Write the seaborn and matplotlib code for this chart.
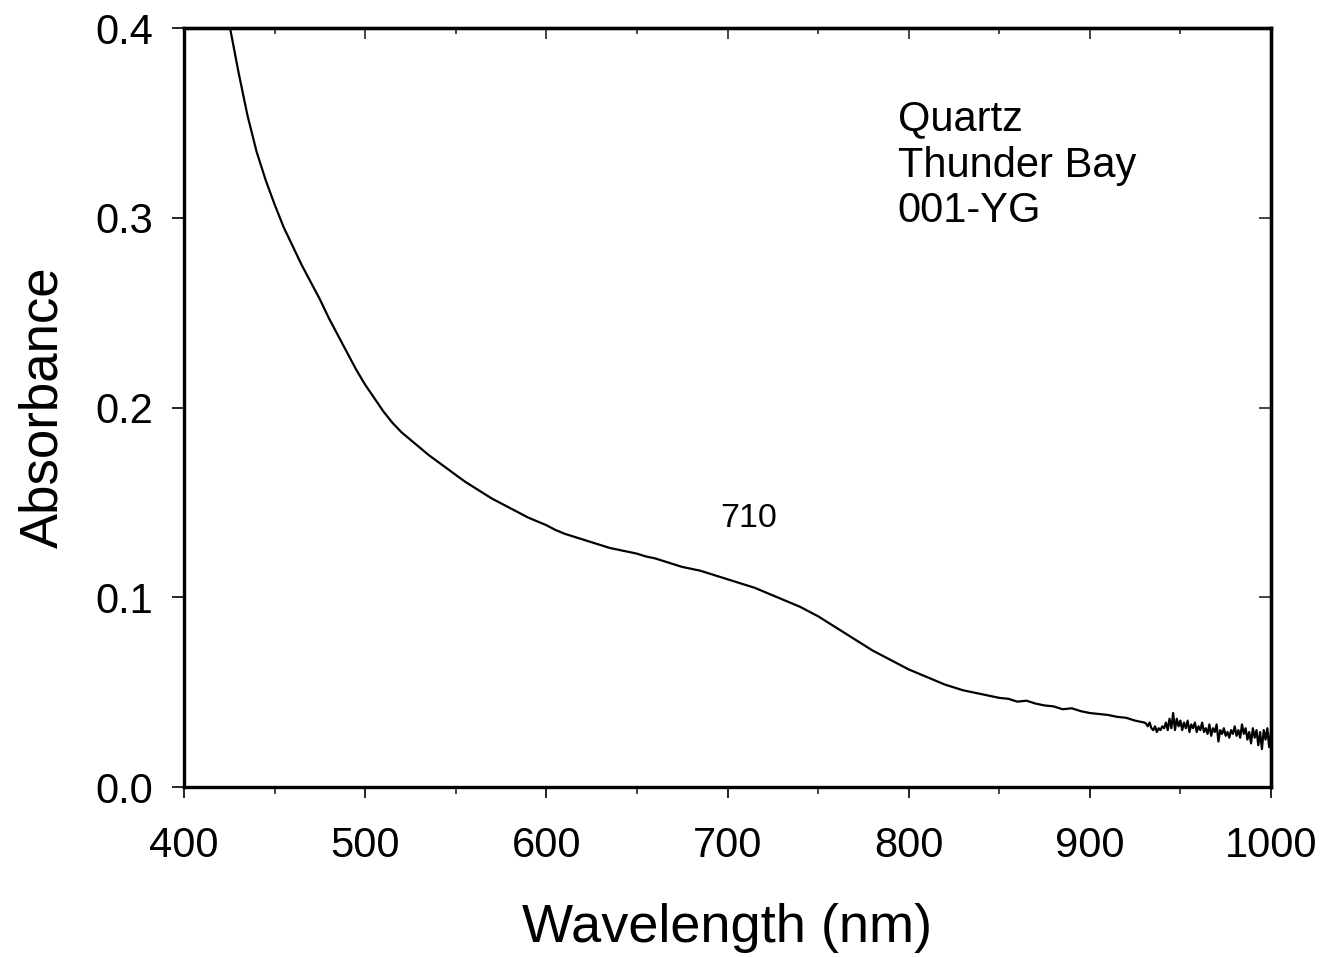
import numpy as np
import pandas as pd
import matplotlib
matplotlib.use("Agg")
import matplotlib.pyplot as plt
from matplotlib.ticker import MultipleLocator
import seaborn as sns

# ---- data ----
wavelength_main = [
    420, 425, 430, 435, 440, 445, 450, 455, 460, 465, 470, 475, 480, 485, 490, 495,
    500, 505, 510, 515, 520, 525, 530, 535, 540, 545, 550, 555, 560, 565, 570, 575,
    580, 585, 590, 595, 600, 605, 610, 615, 620, 625, 630, 635, 640, 645, 650, 655,
    660, 665, 670, 675, 680, 685, 690, 695, 700, 705, 710, 715, 720, 725, 730, 735,
    740, 745, 750, 755, 760, 765, 770, 775, 780, 785, 790, 795, 800, 805, 810, 815,
    820, 825, 830, 835, 840, 845, 850, 855, 860, 865, 870, 875, 880, 885, 890, 895,
    900, 905, 910, 915, 920, 925, 930,
]
absorbance_main = [
    0.428, 0.402, 0.377, 0.354, 0.335, 0.320, 0.307, 0.295, 0.285, 0.275, 0.266, 0.257,
    0.247, 0.238, 0.229, 0.220, 0.212, 0.205, 0.198, 0.192, 0.187, 0.183, 0.179, 0.175,
    0.1715, 0.168, 0.1645, 0.161, 0.158, 0.155, 0.152, 0.1495, 0.147, 0.1445, 0.142, 0.140,
    0.138, 0.1355, 0.1335, 0.132, 0.1305, 0.129, 0.1275, 0.126, 0.125, 0.124, 0.123, 0.1215,
    0.1205, 0.119, 0.1175, 0.116, 0.115, 0.114, 0.1125, 0.111, 0.1095, 0.108, 0.1065, 0.105,
    0.103, 0.101, 0.099, 0.097, 0.095, 0.0925, 0.090, 0.087, 0.084, 0.081, 0.078, 0.075,
    0.072, 0.0695, 0.067, 0.0645, 0.062, 0.060, 0.058, 0.056, 0.054, 0.0525, 0.051, 0.050,
    0.049, 0.048, 0.047, 0.0465, 0.045, 0.0455, 0.044, 0.043, 0.0425, 0.041, 0.0415,
    0.040, 0.039, 0.0385, 0.038, 0.037, 0.0365, 0.035, 0.034,
]
wavelength_tail = [
    931, 932, 933, 934, 935, 936, 937, 938, 939, 940, 941, 942, 943, 944, 945, 946,
    947, 948, 949, 950, 951, 952, 953, 954, 955, 956, 957, 958, 959, 960, 961, 962,
    963, 964, 965, 966, 967, 968, 969, 970, 971, 972, 973, 974, 975, 976, 977, 978,
    979, 980, 981, 982, 983, 984, 985, 986, 987, 988, 989, 990, 991, 992, 993, 994,
    995, 996, 997, 998, 999, 1000,
]
absorbance_tail = [
    0.0335, 0.032, 0.034, 0.031, 0.030, 0.032, 0.029, 0.031, 0.030, 0.032, 0.031, 0.034,
    0.030, 0.036, 0.031, 0.039, 0.030, 0.036, 0.032, 0.035, 0.030, 0.034, 0.031, 0.035,
    0.029, 0.033, 0.031, 0.034, 0.029, 0.032, 0.030, 0.034, 0.029, 0.031, 0.028, 0.033,
    0.027, 0.031, 0.029, 0.033, 0.024, 0.030, 0.028, 0.031, 0.027, 0.029, 0.026, 0.030,
    0.028, 0.032, 0.027, 0.030, 0.026, 0.033, 0.028, 0.031, 0.025, 0.029, 0.023, 0.031,
    0.026, 0.030, 0.022, 0.029, 0.020, 0.030, 0.025, 0.031, 0.021, 0.029,
]

x_ticks = [400, 500, 600, 700, 800, 900, 1000]
y_ticks = [0.0, 0.1, 0.2, 0.3, 0.4]
y_tick_labels = ["0.0", "0.1", "0.2", "0.3", "0.4"]
sample_lines = ["Quartz", "Thunder Bay", "001-YG"]
peak_label = "710"

df = pd.DataFrame({
    "Wavelength (nm)": wavelength_main + wavelength_tail,
    "Absorbance": absorbance_main + absorbance_tail,
})

sns.set_style("ticks")
plt.rcParams["font.family"] = ["Liberation Sans", "DejaVu Sans"]
plt.rcParams["text.color"] = "black"
plt.rcParams["axes.labelcolor"] = "black"

fig = plt.figure(figsize=(13.26, 9.57), dpi=100)
ax = fig.add_axes([0.1388, 0.1776, 0.8197, 0.7931])

sns.lineplot(data=df, x="Wavelength (nm)", y="Absorbance", ax=ax,
             color="black", linewidth=1.6, estimator=None, sort=False)

ax.set_xlim(400, 1000)
ax.set_ylim(0, 0.4)
ax.set_xticks(x_ticks)
ax.set_xticklabels([str(v) for v in x_ticks])
ax.xaxis.set_minor_locator(MultipleLocator(50))
ax.set_yticks(y_ticks)
ax.set_yticklabels(y_tick_labels)

for s in ax.spines.values():
    s.set_linewidth(2.4)
    s.set_color("black")
    s.set_visible(True)

ax.tick_params(axis="x", which="major", direction="out", length=8, width=1.2,
               labelsize=30, pad=20, colors="black")
ax.tick_params(axis="x", which="minor", direction="out", length=5, width=1.2)
ax.tick_params(axis="y", which="major", direction="out", length=8.5, width=1.2,
               labelsize=30, pad=14, colors="black")

top = ax.secondary_xaxis("top")
top.set_xticks(x_ticks)
top.xaxis.set_minor_locator(MultipleLocator(50))
top.tick_params(axis="x", which="major", direction="in", length=8, width=1.2, labeltop=False)
top.tick_params(axis="x", which="minor", direction="in", length=4.5, width=1.2)
top.spines["top"].set_linewidth(2.4)

right = ax.secondary_yaxis("right")
right.set_yticks(y_ticks)
right.tick_params(axis="y", which="major", direction="in", length=8.5, width=1.2, labelright=False)
right.spines["right"].set_linewidth(2.4)

ax.set_xlabel("Wavelength (nm)", fontsize=39, labelpad=27, color="black")
ax.set_ylabel("Absorbance", fontsize=38, labelpad=19, color="black")

baselines = [0.3462, 0.3215, 0.2978]
for txt, yb in zip(sample_lines, baselines):
    ax.text(794, yb, txt, fontsize=30, ha="left", va="baseline", color="black")
ax.text(711.5, 0.137, peak_label, fontsize=24.5, ha="center", va="baseline", color="black")

fig.savefig("out.png", dpi=100, facecolor="white")
